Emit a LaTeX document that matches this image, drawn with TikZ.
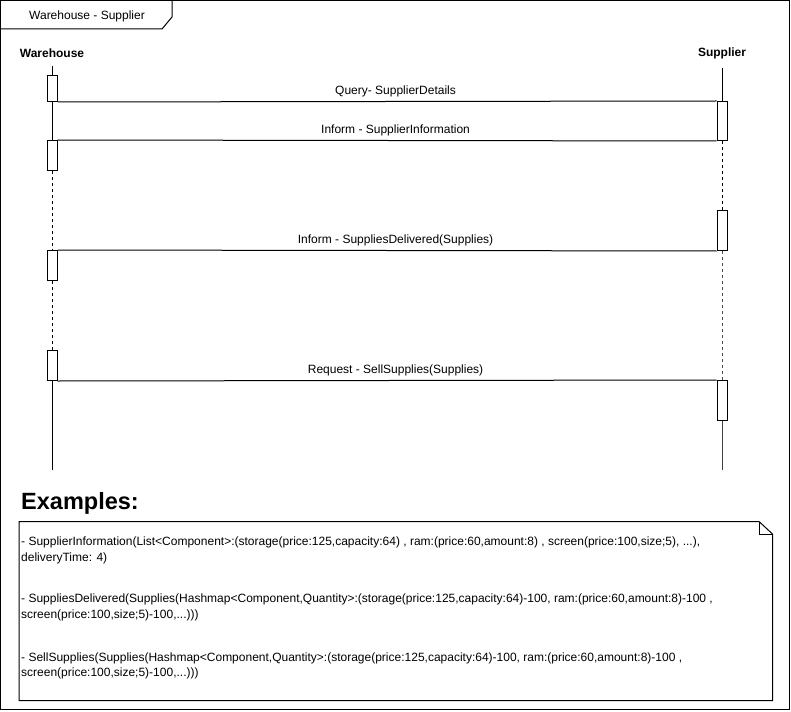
\documentclass[tikz,border=0pt]{standalone}
\usepackage{fontspec}
\setmainfont{Liberation Sans}
\begin{document}
\begin{tikzpicture}[x=1pt,y=-1pt,
  frame/.style={line width=1pt},
  act/.style={draw, fill=white, line width=1pt, minimum width=10pt, inner sep=0pt, anchor=north},
  msg/.style={line width=1pt},
  life/.style={line width=1pt},
  lifedash/.style={line width=1pt, dash pattern=on 3pt off 3pt},
  msglbl/.style={font=\fontsize{12}{14}\selectfont, inner sep=0pt, anchor=base},
  actor/.style={font=\bfseries\fontsize{12}{14}\selectfont, inner sep=0pt},
  notetxt/.style={font=\fontsize{12}{14}\selectfont, inner sep=0pt, anchor=base west}]
\useasboundingbox (0,0) rectangle (791,711);
% outer frame and tab
\draw[frame] (0.5,0.5) rectangle (789.5,709.5);
\draw[frame] (0.5,29) -- (162,29) -- (172,17) -- (172,0.5);
\node[font=\fontsize{12}{14}\selectfont, inner sep=0pt] (title) at (87,16) {Warehouse - Supplier};
% actors
\node[actor] (wh) at (52,53) {Warehouse};
\node[actor] (sp) at (722,53) {Supplier};
% activation boxes
\node[act, minimum height=26pt] (w1) at (52,75) {};
\node[act, minimum height=30pt] (w2) at (52,140) {};
\node[act, minimum height=30pt] (w3) at (52,250) {};
\node[act, minimum height=30pt] (w4) at (52,350) {};
\node[act, minimum height=39pt] (s1) at (722,101) {};
\node[act, minimum height=40pt] (s2) at (722,210) {};
\node[act, minimum height=40pt] (s3) at (722,380) {};
\coordinate (wtop) at (52,66);
\coordinate (wend) at (52,470);
\coordinate (stop) at (722,68);
\coordinate (send) at (722,470);
% lifelines
\draw[life] (wtop) -- (w1.north);
\draw[life] (w1.south) -- (w2.north);
\draw[lifedash] (w2.south) -- (w3.north);
\draw[lifedash] (w3.south) -- (w4.north);
\draw[life] (w4.south) -- (wend);
\draw[life] (stop) -- (s1.north);
\draw[lifedash] (s1.south) -- (s2.north);
\draw[lifedash, draw=black!70] (s2.south) -- (s3.north);
\draw[life, draw=black!75] (s3.south) -- (send);
% messages
\draw[msg] (w1.south east) -- node[msglbl, pos=0.513, yshift=7pt] {Query- SupplierDetails} (s1.north west);
\draw[msg] (s1.south west) -- node[msglbl, pos=0.487, yshift=7pt] {Inform - SupplierInformation} (w2.north east);
\draw[msg] (s2.south west) -- node[msglbl, pos=0.487, yshift=7pt] {Inform - SuppliesDelivered(Supplies)} (w3.north east);
\draw[msg] (w4.south east) -- node[msglbl, pos=0.513, yshift=7pt] {Request - SellSupplies(Supplies)} (s3.north west);
% examples
\node[font=\bfseries\fontsize{23.5}{28}\selectfont, inner sep=0pt, anchor=base west] (ex) at (21,509) {Examples:};
\draw[frame] (19,521.5) -- (759,521.5) -- (772.5,534) -- (772.5,700.5) -- (19,700.5) -- cycle;
\draw[frame] (759,521.5) -- (759,534) -- (772.5,534);
\node[notetxt] (n1) at (21,545) {- SupplierInformation(List<Component>:(storage(price:125,capacity:64) , ram:(price:60,amount:8) , screen(price:100,size;5), ...),};
\node[notetxt] (n2) at (21,561) {deliveryTime: 4)};
\node[notetxt] (n3) at (21,602) {- SuppliesDelivered(Supplies(Hashmap<Component,Quantity>:(storage(price:125,capacity:64)-100, ram:(price:60,amount:8)-100 ,};
\node[notetxt] (n4) at (21,618) {screen(price:100,size;5)-100,...)))};
\node[notetxt] (n5) at (21,661) {- SellSupplies(Supplies(Hashmap<Component,Quantity>:(storage(price:125,capacity:64)-100, ram:(price:60,amount:8)-100 ,};
\node[notetxt] (n6) at (21,676) {screen(price:100,size;5)-100,...)))};
\end{tikzpicture}
\end{document}
